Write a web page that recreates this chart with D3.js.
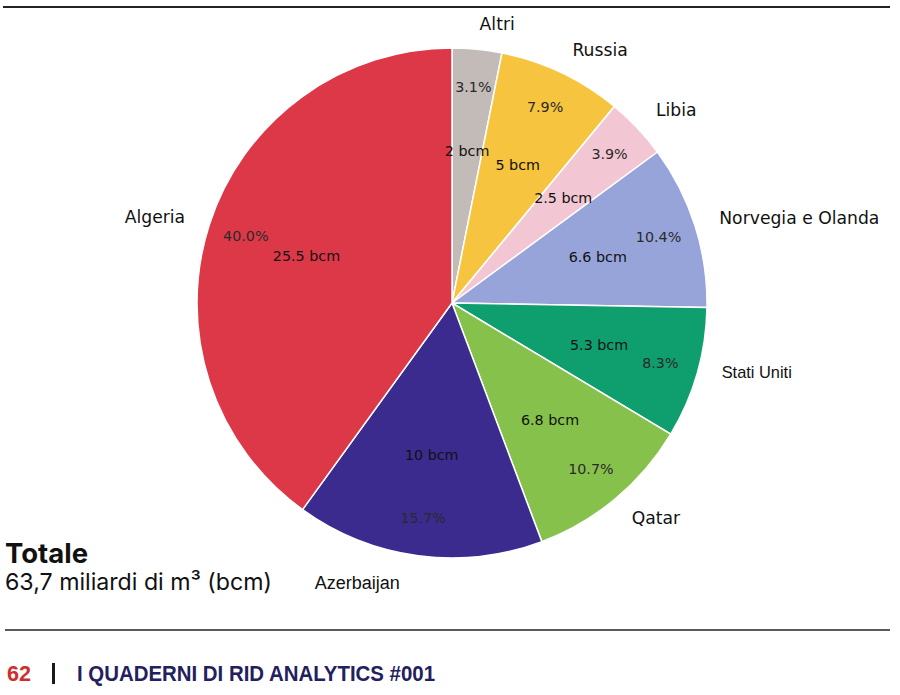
<!DOCTYPE html>
<html><head><meta charset="utf-8">
<script src="https://cdn.jsdelivr.net/npm/d3@7"></script>
<style>body{margin:0;background:#fff;} svg{display:block;}</style>
</head><body>
<svg id="chart" width="900" height="695"></svg>
<script>
const categories = ["Altri","Russia","Libia","Norvegia e Olanda","Stati Uniti","Qatar","Azerbaijan","Algeria"];
const bcm = [2, 5, 2.5, 6.6, 5.3, 6.8, 10, 25.5];
const bcmLabels = ["2 bcm","5 bcm","2.5 bcm","6.6 bcm","5.3 bcm","6.8 bcm","10 bcm","25.5 bcm"];
const pctLabels = ["3.1%","7.9%","3.9%","10.4%","8.3%","10.7%","15.7%","40.0%"];
const colors = ["#c3bbb7","#f6c43e","#f3c6d3","#96a4d9","#0f9f6e","#86c24b","#3b2b8f","#dc3848"];
const totalTitle = "Totale";
const totalText = "63,7 miliardi di m³ (bcm)";

const svg = d3.select("#chart");
const cx = 452, cy = 303, R = 255;

// rules
svg.append("line").attr("x1",3).attr("x2",890).attr("y1",7).attr("y2",7).attr("stroke","#222").attr("stroke-width",2);
svg.append("line").attr("x1",5).attr("x2",890).attr("y1",630).attr("y2",630).attr("stroke","#222").attr("stroke-width",1.5);

const pie = d3.pie().sort(null).value(d => d);
const arcs = pie(bcm);
const arc = d3.arc().innerRadius(0).outerRadius(R);
const g = svg.append("g").attr("transform",`translate(${cx},${cy})`);

g.selectAll("path.slice").data(arcs).join("path")
  .attr("class","slice")
  .attr("d", arc)
  .attr("fill", (d,i) => colors[i])
  .attr("stroke","#fff").attr("stroke-width",1.5);

function pos(d, f){
  const a = (d.startAngle + d.endAngle)/2;
  return [Math.sin(a)*R*f, -Math.cos(a)*R*f];
}

// pct labels
g.selectAll("text.pct").data(arcs).join("text")
  .attr("class","pct")
  .attr("x", d => pos(d,0.85)[0]).attr("y", d => pos(d,0.85)[1])
  .attr("text-anchor","middle").attr("dominant-baseline","central")
  .attr("font-family","DejaVu Sans").attr("font-size",14.3).attr("fill","#2a2a2a")
  .text((d,i) => pctLabels[i]);

// bcm labels
g.selectAll("text.bcm").data(arcs).join("text")
  .attr("class","bcm")
  .attr("x", d => pos(d,0.6)[0]).attr("y", d => pos(d,0.6)[1])
  .attr("text-anchor","middle").attr("dominant-baseline","central")
  .attr("font-family","DejaVu Sans").attr("font-size",14.3).attr("fill","#111")
  .text((d,i) => bcmLabels[i]);

// category labels (two were retypeset in the original; small nudges)
const alt = {"Stati Uniti":{dx:0,dy:-8,size:16.4},"Azerbaijan":{dx:-15,dy:2,size:18}};
g.selectAll("text.cat").data(arcs).join("text")
  .attr("class","cat")
  .attr("x", (d,i) => pos(d,1.1)[0] + (alt[categories[i]]?.dx || 0))
  .attr("y", (d,i) => pos(d,1.1)[1] + (alt[categories[i]]?.dy || 0))
  .attr("text-anchor", d => pos(d,1)[0] >= 0 ? "start" : "end")
  .attr("dominant-baseline","central")
  .attr("font-family", (d,i) => alt[categories[i]] ? "Liberation Sans" : "DejaVu Sans")
  .attr("font-size", (d,i) => alt[categories[i]] ? alt[categories[i]].size : 17.2)
  .attr("fill","#111")
  .text((d,i) => categories[i]);

// total
svg.append("text").attr("x",5).attr("y",563).attr("font-family","Inter").attr("font-weight",700)
  .attr("font-size",27.5).attr("fill","#111").text(totalTitle);
svg.append("text").attr("x",5).attr("y",590).attr("font-family","Inter").attr("font-weight",400)
  .attr("font-size",23.3).attr("fill","#111").attr("textLength",267).attr("lengthAdjust","spacingAndGlyphs")
  .text(totalText);

// footer
svg.append("text").attr("x",7).attr("y",681).attr("font-family","Liberation Sans").attr("font-weight",700)
  .attr("font-size",21.5).attr("fill","#cf2f2c").attr("textLength",24).attr("lengthAdjust","spacingAndGlyphs").text("62");
svg.append("rect").attr("x",52).attr("y",663).attr("width",3).attr("height",21).attr("fill","#1a1a1a");
svg.append("text").attr("x",77).attr("y",681).attr("font-family","Liberation Sans").attr("font-weight",700)
  .attr("font-size",21.5).attr("fill","#22215e").attr("textLength",358).attr("lengthAdjust","spacingAndGlyphs")
  .text("I QUADERNI DI RID ANALYTICS #001");
</script>
</body></html>
